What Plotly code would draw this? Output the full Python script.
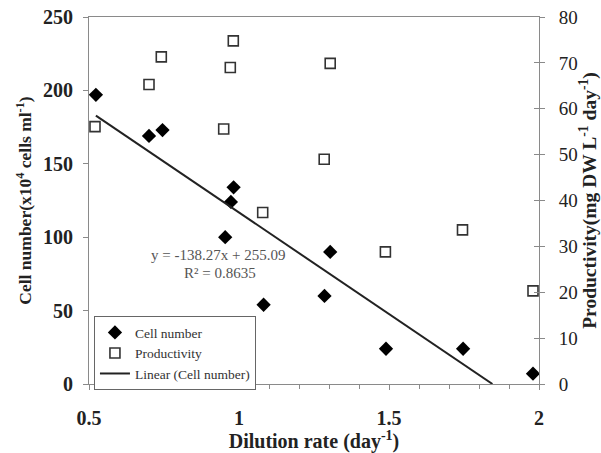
import plotly.graph_objects as go
import numpy as np

# Data
cell_x = [0.523, 0.70, 0.745, 0.982, 0.973, 0.954, 1.082, 1.304, 1.285, 1.49, 1.747, 1.98]
cell_y = [197, 169, 173, 134, 124, 100, 54, 90, 60, 24, 24, 7]
prod_x = [0.52, 0.70, 0.741, 0.981, 0.971, 0.949, 1.079, 1.304, 1.284, 1.488, 1.745, 1.98]
prod_y = [56.1, 65.3, 71.3, 74.8, 69.0, 55.6, 37.4, 69.9, 49.0, 28.8, 33.6, 20.3]
slope = -138.27
intercept = 255.09
r2 = 0.8635

x_ticks = [0.5, 1, 1.5, 2]
x_tick_labels = ["0.5", "1", "1.5", "2"]
y_ticks = [0, 50, 100, 150, 200, 250]
y2_ticks = [0, 10, 20, 30, 40, 50, 60, 70, 80]

FONT = "Liberation Serif"
AX = "#8a8a8a"

x0 = min(cell_x)
x1 = -intercept / slope
line_x = [x0, x1]
line_y = [slope * x + intercept for x in line_x]

fig = go.Figure()
fig.add_trace(go.Scatter(x=cell_x, y=cell_y, mode="markers", name="Cell number",
                         marker=dict(symbol="diamond", size=11, color="black")))
fig.add_trace(go.Scatter(x=prod_x, y=prod_y, mode="markers", name="Productivity", yaxis="y2",
                         marker=dict(symbol="square-open", size=10, color="#333",
                                     line=dict(width=1.6, color="#333"))))
fig.add_trace(go.Scatter(x=line_x, y=line_y, mode="lines", name="Linear (Cell number)",
                         line=dict(color="#222", width=2)))
# invisible trace for inward ticks on right axis
fig.add_trace(go.Scatter(x=[None], y=[None], yaxis="y3", showlegend=False))

fig.update_layout(
    width=601, height=453,
    margin=dict(l=89, r=62, t=17, b=69),
    plot_bgcolor="white", paper_bgcolor="white",
    font=dict(family=FONT, color="#222"),
    xaxis=dict(range=[0.5, 2], tickvals=x_ticks, ticktext=x_tick_labels, automargin=False,
               showgrid=False, zeroline=False, showline=True, linecolor=AX, linewidth=1,
               mirror=True, ticks="outside", ticklen=5, tickcolor=AX,
               minor=dict(dtick=0.1, ticks="outside", ticklen=4, tickcolor=AX),
               tickfont=dict(family=FONT, size=20, color="#222", weight="bold"),
               ticklabelstandoff=11,
               title=dict(text="Dilution rate (day<sup>-1</sup>)", standoff=3,
                          font=dict(family=FONT, size=20, color="#222", weight="bold"))),
    yaxis=dict(range=[0, 250], tickvals=y_ticks, showgrid=False, zeroline=False, automargin=False,
               showline=True, linecolor=AX, linewidth=1, ticks="outside", ticklen=5,
               tickcolor=AX, ticklabelstandoff=6,
               tickfont=dict(family=FONT, size=20, color="#222", weight="bold"),
               title=dict(text="Cell number(x10<sup>4</sup> cells ml<sup>-1</sup>)", standoff=6,
                          font=dict(family=FONT, size=17.5, color="#222", weight="bold"))),
    yaxis2=dict(range=[0, 80], tickvals=y2_ticks, overlaying="y", side="right", automargin=False,
                showgrid=False, zeroline=False, showline=True, linecolor=AX, linewidth=1,
                ticks="outside", ticklen=5, tickcolor=AX, ticklabelstandoff=10,
                tickfont=dict(family=FONT, size=19, color="#222"),
                title=dict(text="Productivity(mg DW L<sup>-1</sup> day<sup>-1</sup>)", standoff=6,
                           font=dict(family=FONT, size=19.5, color="#222", weight="bold"))),
    yaxis3=dict(range=[0, 80], tickvals=y2_ticks, overlaying="y", side="right", automargin=False,
                showgrid=False, zeroline=False, showline=False, showticklabels=False,
                ticks="inside", ticklen=5, tickcolor=AX),
    legend=dict(x=0.011, y=0.185, xanchor="left", yanchor="top",
                bordercolor="#666", borderwidth=1, bgcolor="white",
                font=dict(family=FONT, size=13.5, color="#333"),
                tracegroupgap=0, itemwidth=30),
    showlegend=True,
)

fig.add_annotation(x=0.287, y=0.351, xref="paper", yref="paper", showarrow=False,
                   text=f"y = {slope}x + {intercept}",
                   font=dict(family=FONT, size=15, color="#555"), xanchor="center", yanchor="middle")
fig.add_annotation(x=0.292, y=0.302, xref="paper", yref="paper", showarrow=False,
                   text=f"R² = {r2}",
                   font=dict(family=FONT, size=15, color="#555"), xanchor="center", yanchor="middle")

fig.write_html("out.html")
